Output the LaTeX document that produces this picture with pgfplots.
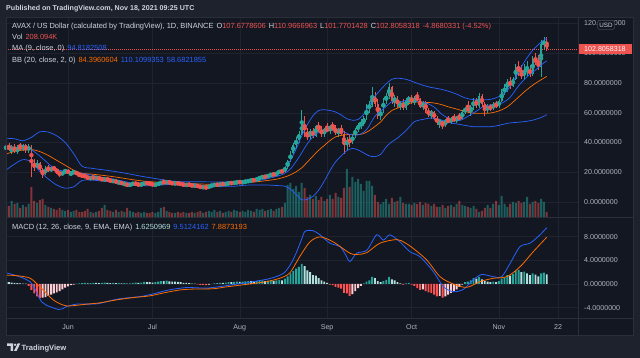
\documentclass[border=0pt]{standalone}
\usepackage{fontspec}
\setmainfont{Liberation Sans}
\usepackage{pgfplots}
\pgfplotsset{compat=1.18}
\usepgfplotslibrary{fillbetween}
\usepackage{pgfplotstable}

\definecolor{bgout}{HTML}{1E222D}
\definecolor{bgin}{HTML}{131722}
\definecolor{gridc}{HTML}{1F2330}
\definecolor{sepc}{HTML}{2A2E39}
\definecolor{txt}{HTML}{B2B5BE}
\definecolor{txtl}{HTML}{D1D4DC}
\definecolor{upc}{HTML}{26A69A}
\definecolor{dnc}{HTML}{EF5350}
\definecolor{blu}{HTML}{2962FF}
\definecolor{ora}{HTML}{FF6D00}
\definecolor{hup}{HTML}{26A69A}
\definecolor{hupf}{HTML}{B2DFDB}
\definecolor{hdng}{HTML}{FFCDD2}
\definecolor{hdn}{HTML}{FF5252}
\definecolor{bbfill}{HTML}{2196F3}
\definecolor{badge}{HTML}{434651}

\pgfplotstableread{
x o h l c v
9 35 40 33 38 14
10 38 40 34 35 11
11 35 38 32 37 16
12 37 39 33 34 13
13 34 38 32 37 14
14 37 40 35 36 9
15 36 39 34 38 12
16 38 39 33 35 10
17 35 39 33 37 13
18 37 38 17 26 30
19 26 29 21 23 16
20 23 28 22 26 14
21 26 27 20 21.5 17
22 21.5 23 16 19 18
23 19 24 18 23 12
24 23 25 20 21 10
25 21 24 20 23 9
26 23 24.5 21 22 8
27 22 23 19 20 7
28 20 21 17 18.5 9
29 18.5 21 17.5 20 7
30 20 22.5 19 21.5 6
31 21.5 22 18.5 19 7
32 19 20 18 19.5 5
33 19.5 21 19 20.5 6
34 20.5 21 18 18.5 7
35 18.5 19.5 17 18 5
36 18 19 16.5 17.5 5
37 17.5 18.5 16.5 17 6
38 17 18 15 15.5 8
39 15.5 17 15 16.5 5
40 16.5 17.5 15.5 16 4
41 16 17 15.5 16.5 5
42 16.5 17 15 15.5 6
43 15.5 16.5 14.5 15 9
44 15 16 14 15.5 12
45 15.5 16 14.5 14.8 7
46 14.8 15.5 13.5 14 6
47 14 15 13 14.5 5
48 14.5 15 12.5 13 7
49 13 14 12 13.5 5
50 13.5 14 11.5 12 6
51 12 13 11 12.5 5
52 12.5 13 10 11 9
53 11 12.5 10.5 12 6
54 12 13 11.5 12.5 5
55 12.5 13 11.8 12 4
56 12 12.5 11 11.5 5
57 11.5 12.5 11 12 4
58 12 13 11.5 12.8 5
59 12.8 13.5 12 12.5 4
60 12.5 13 11.8 12.2 4
61 12.2 12.5 11.2 11.5 5
62 11.5 12 11 11.8 4
63 11.8 12.8 11.5 12.5 5
64 12.5 13.5 12.2 13.2 9
65 13.2 14.5 12.8 13 10
66 13 14 12.5 13.5 6
67 13.5 14 12.5 12.8 5
68 12.8 13.2 12 12.5 4
69 12.5 13 11.8 12.8 4
70 12.8 13.2 12 12.2 5
71 12.2 12.8 11.5 12 4
72 12 12.5 11 11.3 5
73 11.3 12 11 11.8 4
74 11.8 12.2 11.2 11.5 4
75 11.5 11.8 10.5 10.8 5
76 10.8 11.5 10.5 11.2 4
77 11.2 11.4 10.2 10.5 5
78 10.5 10.8 9.5 9.9 6
79 9.9 10.5 9.4 10 4
80 10 10.2 9.3 9.6 5
81 9.6 11 9.5 10.8 6
82 10.8 11.5 10.5 11.2 5
83 11.2 12 10.9 11.8 7
84 11.8 12 11.2 11.5 5
85 11.5 12.5 11.3 12.2 6
86 12.2 12.8 11.5 11.8 4
87 11.8 12.5 11.5 12.3 5
88 12.3 13 12 12.8 6
89 12.8 13.2 12.3 12.6 5
90 12.6 13.4 12.4 13.1 7
91 13.1 13.6 12.8 13.4 6
92 13.4 14 12.8 13.2 5
93 13.2 13.8 12.6 13.6 6
94 13.6 14.2 13 13.9 5
95 13.9 14.5 13.4 14.3 7
96 14.3 15 13.8 14.8 6
97 14.8 15.5 14 14.6 5
98 14.6 16 14.3 15.6 8
99 15.6 17 15.2 16.5 7
100 16.5 17.5 15.8 17.2 8
101 17.2 17.8 16.2 16.8 6
102 16.8 18.5 16.5 18 7
103 18 19 17.2 18.6 8
104 18.6 19.5 17.8 18.2 6
105 18.2 20 18 19.6 8
106 19.6 21.5 19 20.8 9
107 20.8 22 19.5 20.2 10
108 20.2 24 19.8 23.5 14
109 23.5 28 22.5 27.5 32
110 27.5 34 27 33 34
111 33 40 32 38.5 28
112 38.5 44 36 42 31
113 42 48 40 46 25
114 46 62 45 53 34
115 53 58 44 46 29
116 46 50 42 43.5 20
117 43.5 49 42 48 22
118 48 50 43 44.5 18
119 44.5 52 44 51 21
120 51 54 47 48.5 17
121 48.5 51 44 45.5 20
122 45.5 50 44 49 16
123 49 53 47 48 18
124 48 52 46 51 22
125 51 54 48 49 18
126 49 52 45 46.5 24
127 46.5 50 44 48.5 20
128 48.5 52 45 46 19
129 46 48 32 38 29
130 38 44 35 42 48
131 42 45 37 40 30
132 40 46 39 45 40
133 45 50 43 48.5 35
134 48.5 53 47 51.5 38
135 51.5 56 49 52.5 33
136 52.5 58 51 56.5 26
137 56.5 66 55 63 36
138 63 68 60 65.5 36
139 65.5 77 64 71 31
140 71 74 64 66 22
141 66 69 56 58 15
142 58 63 55 61 13
143 61 70 60 69 15
144 69 73 66 71 18
145 71 80 69 77 13
146 77 78 66 68 19
147 68 72 64 70 15
148 70 71 63 65 16
149 65 68 62 66 20
150 66 69 62 63.5 14
151 63.5 70 62 68.5 13
152 68.5 71 65 70 13
153 70 72 66 67 12
154 67 71 65 70 14
155 70 74 68 69 13
156 69 70 63 64 15
157 64 68 62 67 12
158 67 68 60 61.5 14
159 61.5 63 57 59 13
160 59 62 56 60.5 11
161 60.5 61.5 55 56 13
162 56 58 52 53.5 10
163 53.5 56 50 54.5 10
164 54.5 55 49 51.5 12
165 51.5 56 50.5 55 9
166 55 58 53 54 11
167 54 57 52.5 56 12
168 56 59 54 55 10
169 55 58 53 57 13
170 57 60 55 56 16
171 56 62 55 60.5 12
172 60.5 64 59 63 11
173 63 68 60 61.5 10
174 61.5 65 58 64 9
175 64 70 62 68.5 11
176 68.5 70 63 64.5 8
177 64.5 73 63 71 5
178 71 72.5 64 66 6
179 66 67 58 62 9
180 62 66 60 64 12
181 64 66 61 63 9
182 63 67 62 65.5 13
183 65.5 68 63 64.5 16
184 64.5 69 63 68 12
185 68 76 67 74 21
186 74 79 72 76 13
187 76 83 74 81 10
188 81 84 76 78 13
189 78 84 77 83 15
190 83 93 82 91 14
191 91 95 85 87 16
192 87 92 83 84.5 14
193 84.5 93 82 88 15
194 88 95 85 89 20
195 89 92 84 86 13
196 86 98 85 96 15
197 96 100 92 94 16
198 94 99 89 91 14
199 91 109 84 106 18
200 106 111 103 107.68 15
201 107.68 110.97 101.77 102.81 5
}\candles

\pgfplotstableread{
x u b l
9 42.8 32.2 21.5
12 42.5 34.0 25.5
15 41.2 34.9 28.5
18 43.5 35.3 27.0
21 47.2 33.9 20.5
24 47.0 31.3 15.5
27 44.5 28.0 11.4
30 40.0 24.7 9.3
33 32.5 21.4 10.2
36 24.0 19.3 14.5
39 22.8 18.8 14.8
42 22.0 18.2 14.3
46 21.0 17.3 13.5
50 19.8 16.2 12.5
54 18.4 15.0 11.6
58 17.0 14.0 11.0
62 15.8 13.4 11.0
66 14.5 13.1 11.7
70 13.8 12.7 11.6
74 13.6 12.4 11.1
78 13.6 12.1 10.6
82 13.5 11.9 10.3
86 13.5 12.0 10.5
90 13.8 12.2 10.6
94 14.5 12.9 11.3
98 15.8 13.6 11.4
102 17.6 14.5 11.4
105 19.5 15.3 11.1
108 23.0 16.8 10.6
110 28.0 18.3 8.6
112 35.5 20.3 5.1
114 44.5 23.0 1.5
116 52.0 26.9 1.8
118 58.0 30.9 3.8
120 61.5 34.8 8.0
122 62.0 38.0 14.0
124 61.5 41.3 21.0
126 60.5 43.8 27.0
128 58.5 44.8 31.0
130 56.0 45.3 34.5
132 55.0 45.5 36.0
134 55.5 45.3 35.0
136 59.0 46.0 33.0
138 65.0 48.0 31.0
140 71.0 50.8 30.5
142 75.5 53.8 32.0
144 79.5 58.3 37.0
146 82.5 61.5 40.5
148 83.2 63.1 43.0
151 82.5 65.3 48.0
154 80.5 67.3 54.0
157 78.5 67.0 55.5
160 77.0 66.8 56.5
163 76.0 65.8 55.5
166 74.5 64.0 53.5
169 72.5 62.5 52.5
172 70.0 60.8 51.5
175 68.8 59.7 50.6
178 68.6 59.6 50.6
181 69.0 59.8 50.6
184 70.8 61.2 51.5
187 75.0 64.0 52.9
190 84.0 68.8 53.5
193 94.0 74.0 54.0
196 102.0 78.5 55.0
199 107.5 82.2 56.8
201 110.11 84.40 58.68
}\bb

\pgfplotstableread{
x m
9 36.3
12 36.3
15 36.5
17 36.3
20 32.4
23 27.6
26 22.7
29 20.9
32 20.5
35 19.5
38 18.6
41 17.3
44 16.1
47 15.4
50 14.2
53 13.0
56 12.2
59 12.1
62 12.1
65 12.4
68 12.6
71 12.7
74 12.3
77 11.6
80 10.7
83 10.6
86 11.0
89 11.9
92 12.5
95 13.2
98 14.1
101 15.3
104 16.7
107 18.4
110 22.2
113 30.1
116 39.2
119 45.8
122 47.7
125 48.3
128 48.0
131 45.4
134 45.1
137 48.6
140 57.7
143 62.5
146 67.4
149 67.2
152 68.8
155 67.7
158 66.7
161 63.8
164 58.6
167 55.6
170 54.7
173 57.6
176 61.1
179 64.6
182 65.4
185 66.4
188 70.4
191 78.1
194 84.2
197 88.7
200 93.6
201 94.8
}\maline

\pgfplotstableread{
x m
9 1.9
12 1.5
14 1.2
16 0.8
17.5 0.4
19 -0.6
20 -1.6
21.6 -3.0
23 -3.5
25 -3.9
27.6 -4.3
29 -4.2
30.5 -3.8
34 -3.4
38 -3.4
42 -3.3
48 -2.6
53 -2.3
57 -2.1
61 -1.7
65 -1.2
68 -0.9
73 -0.6
77 -0.65
80 -0.7
84 -0.5
87 -0.3
91 0.0
94.5 0.2
98 0.5
101.6 0.8
104 1.1
106.3 1.5
108 2.0
110 3.3
112 5.2
114 7.6
115.2 8.9
118 9.0
120.5 8.3
124 6.9
127.6 6.3
129.5 5.0
131.1 3.8
133.5 5.2
137.1 5.7
140.6 8.3
143 7.4
145.3 8.3
148.9 7.1
152.4 5.45
156 4.6
160.7 2.1
164.3 -0.45
167.8 -1.3
171.4 -0.9
174.9 0.7
177.9 1.6
182 1.24
185 1.24
188 3.5
191.5 6.3
195.1 6.9
198.6 8.3
201 9.51
}\macd

\pgfplotstableread{
x s
9 1.5
13 1.4
17.5 1.0
20 0.0
22.2 -1.0
24 -1.9
25.8 -2.7
28 -3.3
30.5 -3.7
34 -3.6
37.6 -3.4
42 -3.2
48 -2.7
54 -2.3
60.1 -2.0
65 -1.5
70.8 -1.0
76 -0.85
82.6 -0.8
87 -0.5
92.1 -0.2
97 0.1
101.6 0.4
105 0.8
107.5 1.2
110 2.0
113.4 4.7
116.9 7.1
120.5 7.95
125.2 7.1
131.1 5.2
134 5.0
137.1 5.3
141.8 6.9
147.7 7.5
150.5 7.0
153.6 6.0
158.4 4.05
163.1 1.24
167.8 0.0
172.6 -0.56
177.3 0.4
182 0.96
186.8 1.24
191.5 2.9
196.2 5.45
201 7.89
}\sig

\pgfplotstableread{
x h k
9 0.4 1
10 0.3 1
11 0.25 1
12 0.2 1
13 0.15 1
14 0.1 1
15 0.05 1
16 0.05 1
17 -0.3 3
18 -1.0 3
19 -1.6 3
20 -2.1 3
21 -2.4 3
22 -2.3 2
23 -2.2 2
24 -2.0 2
25 -1.8 2
26 -1.6 2
27 -1.4 2
28 -1.2 2
29 -0.9 2
30 -0.6 2
31 -0.4 2
32 -0.2 2
33 -0.1 2
34 0.05 0
35 0.1 0
36 0.15 0
37 0.2 0
38 0.1 1
39 0.15 0
40 0.2 0
41 0.2 1
42 0.15 1
43 0.2 0
44 0.25 0
45 0.2 1
46 0.15 1
47 0.2 0
48 0.15 1
49 0.2 0
50 0.1 1
51 0.15 0
52 0.05 1
53 0.1 0
54 0.2 0
55 0.25 0
56 0.2 1
57 0.25 0
58 0.35 0
59 0.3 1
60 0.3 1
61 0.25 1
62 0.3 0
63 0.4 0
64 0.5 0
65 0.5 1
66 0.55 0
67 0.45 1
68 0.4 1
69 0.4 1
70 0.35 1
71 0.3 1
72 0.2 1
73 0.2 1
74 0.15 1
75 0.05 1
76 0.05 1
77 -0.05 3
78 -0.15 3
79 -0.15 3
80 -0.2 3
81 -0.1 2
82 0.02 0
83 0.1 0
84 0.1 1
85 0.2 0
86 0.2 1
87 0.25 0
88 0.3 0
89 0.3 1
90 0.35 0
91 0.4 0
92 0.35 1
93 0.4 0
94 0.45 0
95 0.5 0
96 0.5 1
97 0.45 1
98 0.5 0
99 0.55 0
100 0.6 0
101 0.5 1
102 0.55 0
103 0.6 0
104 0.5 1
105 0.6 0
106 0.7 0
107 0.6 1
108 0.9 0
109 1.3 0
110 1.8 0
111 2.2 0
112 2.6 0
113 2.9 0
114 3.4 0
115 3.0 1
116 2.3 1
117 2.0 1
118 1.5 1
119 1.4 1
120 1.0 1
121 0.6 1
122 0.4 1
123 0.2 1
124 -0.1 3
125 -0.2 3
126 -0.5 3
127 -0.6 3
128 -0.8 3
129 -1.5 3
130 -1.6 3
131 -2.0 3
132 -1.7 2
133 -1.2 2
134 -0.7 2
135 -0.3 2
136 0.1 0
137 0.4 0
138 0.6 0
139 1.2 0
140 1.0 1
141 0.5 1
142 0.3 1
143 0.5 0
144 0.7 0
145 1.2 0
146 0.8 1
147 0.6 1
148 0.3 1
149 0.1 1
150 -0.1 3
151 0.1 0
152 0.2 0
153 -0.1 3
154 -0.3 3
155 -0.7 3
156 -1.0 3
157 -0.9 2
158 -1.2 3
159 -1.4 3
160 -1.5 3
161 -1.8 3
162 -2.1 3
163 -2.0 2
164 -2.3 3
165 -2.1 2
166 -1.8 2
167 -1.5 2
168 -1.2 2
169 -0.9 2
170 -0.5 2
171 -0.1 2
172 0.3 0
173 0.4 0
174 0.6 0
175 1.0 0
176 0.9 1
177 1.2 0
178 0.8 1
179 0.5 1
180 0.4 1
181 0.3 1
182 0.4 0
183 0.3 1
184 0.5 0
185 0.9 0
186 1.1 0
187 1.5 0
188 1.4 1
189 1.7 0
190 2.2 0
191 2.4 0
192 2.0 1
193 2.1 0
194 1.8 1
195 1.5 1
196 1.8 0
197 1.6 1
198 1.3 1
199 1.8 0
200 1.9 0
201 1.63 1
}\hist

\newcommand\fs[1]{\fontsize{#1bp}{#1bp}\selectfont}
\pgfplotsset{
  tv/.style={scale only axis, width=572bp, xmin=8.98, xmax=212.1, anchor=south west,
    axis line style={draw=none}, tick style={draw=none}, major tick length=0pt, clip=true,
    grid style={gridc, line width=0.5bp},
    /pgf/number format/assume math mode=true,
    yticklabel pos=right,
    yticklabel style={anchor=west, xshift=6bp, inner sep=0pt, text=txt, font=\fs{7.1},
      /pgf/number format/fixed, /pgf/number format/fixed zerofill, /pgf/number format/precision=7, /pgf/number format/1000 sep={}}},
  candle/.style 2 args={only marks, mark=none, color=#1, restrict expr to domain={\thisrow{c}-\thisrow{o}}{#2},
    error bars/.cd, y dir=both, y explicit, error mark=none, error bar style={line width=0.6bp, color=#1}},
  body/.style 2 args={only marks, mark=none, color=#1, restrict expr to domain={\thisrow{c}-\thisrow{o}}{#2},
    error bars/.cd, y dir=both, y explicit, error mark=none, error bar style={line width=1.8bp, color=#1}},
  vol/.style 2 args={ybar, bar width=2.0bp, bar shift=0pt, draw=none, fill=#1, fill opacity=0.5, restrict expr to domain={\thisrow{c}-\thisrow{o}}{#2}},
  hbar/.style 2 args={ybar, bar width=1.9bp, bar shift=0pt, draw=none, fill=#1, restrict expr to domain={\thisrow{k}}{#2:#2}},
}

\begin{document}
\begin{tikzpicture}
\fill[bgout] (0,0) rectangle (640bp,358bp);
\fill[bgin] (6bp,23bp) rectangle (633bp,341bp);

% price grid and scale
\begin{axis}[tv, at={(6bp,141bp)}, height=200bp, ymin=-10.08, ymax=124.37,
  xtick={31,61,92,123,153,184,205}, xticklabels={{},{},{},{},{},{},{}}, xmajorgrids,
  ytick={0,20,40,60,80,100,120}, ymajorgrids]
\addplot[draw=none] coordinates {(100,50)};
\end{axis}

% volume
\begin{axis}[tv, at={(6bp,141bp)}, height=200bp, ymin=0, ymax=200, hide axis]
\addplot[vol={upc}{0:1000}] table[x=x, y=v] {\candles};
\addplot[vol={dnc}{-1000:-0.0001}] table[x=x, y=v] {\candles};
\end{axis}

% price data
\begin{axis}[tv, at={(6bp,141bp)}, height=200bp, ymin=-10.08, ymax=124.37, hide axis]
\addplot[draw=none, name path=U, smooth, tension=0.5] table[x=x, y=u] {\bb};
\addplot[draw=none, name path=L, smooth, tension=0.5] table[x=x, y=l] {\bb};
\addplot[bbfill, fill opacity=0.08, draw=none] fill between[of=U and L];
\addplot[dnc, line width=0.6bp, dash pattern=on 0.8bp off 1.2bp] coordinates {(8.98,102.8058318) (212.1,102.8058318)};
\addplot[candle={upc}{0:1000}] table[x=x, y expr={(\thisrow{h}+\thisrow{l})/2}, y error expr={(\thisrow{h}-\thisrow{l})/2}] {\candles};
\addplot[candle={dnc}{-1000:-0.0001}] table[x=x, y expr={(\thisrow{h}+\thisrow{l})/2}, y error expr={(\thisrow{h}-\thisrow{l})/2}] {\candles};
\addplot[body={upc}{0:1000}] table[x=x, y expr={(\thisrow{o}+\thisrow{c})/2}, y error expr={abs(\thisrow{c}-\thisrow{o})/2}] {\candles};
\addplot[body={dnc}{-1000:-0.0001}] table[x=x, y expr={(\thisrow{o}+\thisrow{c})/2}, y error expr={abs(\thisrow{c}-\thisrow{o})/2}] {\candles};
\addplot[blu, line width=0.7bp, smooth, tension=0.5] table[x=x, y=u] {\bb};
\addplot[blu, line width=0.7bp, smooth, tension=0.5] table[x=x, y=l] {\bb};
\addplot[ora, line width=0.7bp, smooth, tension=0.5] table[x=x, y=b] {\bb};
\addplot[blu, line width=0.7bp, smooth, tension=0.5] table[x=x, y=m] {\maline};
\end{axis}

% MACD
\begin{axis}[tv, at={(6bp,40bp)}, height=101bp, ymin=-5.74, ymax=11.31,
  xtick={31,61,92,123,153,184,205}, xticklabels={Jun,Jul,Aug,Sep,Oct,Nov,22}, xmajorgrids,
  xticklabel style={anchor=base, yshift=-11.5bp, text=txt, font=\fs{7.1}},
  ytick={-4,0,4,8}, ymajorgrids]
\addplot[hbar={hup}{0}] table[x=x, y=h] {\hist};
\addplot[hbar={hupf}{1}] table[x=x, y=h] {\hist};
\addplot[hbar={hdng}{2}] table[x=x, y=h] {\hist};
\addplot[hbar={hdn}{3}] table[x=x, y=h] {\hist};
\addplot[blu, line width=0.8bp, smooth, tension=0.5] table[x=x, y=m] {\macd};
\addplot[ora, line width=0.8bp, smooth, tension=0.5] table[x=x, y=s] {\sig};
\end{axis}

% separators and frame
\draw[sepc, line width=0.6bp] (6bp,141bp) -- (633bp,141bp);
\draw[sepc, line width=0.6bp] (6bp,40bp) -- (633bp,40bp);
\draw[sepc, line width=0.6bp] (578bp,23bp) -- (578bp,341bp);
\draw[sepc, line width=0.6bp] (6bp,23bp) rectangle (633bp,341bp);

% last price label
\fill[dnc] (578.5bp,304.3bp) rectangle (632bp,313.5bp);
\node[anchor=west, inner sep=0pt, text=white, font=\fs{7.1}] at (584bp,309bp) {102.8058318};
% USD badge
\filldraw[fill=bgin, draw=badge, line width=0.5bp, rounded corners=1.5bp] (597.5bp,328.5bp) rectangle (614.5bp,337.5bp);
\node[anchor=center, inner sep=0pt, text=txtl, font=\fs{6.3}] at (606bp,333bp) {USD};

% texts
\node[anchor=base west, inner sep=0pt, text=txtl, font=\bfseries\fs{7.1}] at (6bp,347.5bp) {Published on TradingView.com, Nov 18, 2021 09:25 UTC};
\node[anchor=base west, inner sep=0pt, text=txtl, font=\fs{7.45}] at (12bp,329.5bp) {AVAX / US Dollar (calculated by TradingView), 1D, BINANCE\hspace{3bp}O\textcolor{dnc}{107.6778606}\hspace{3bp}H\textcolor{dnc}{110.9666963}\hspace{3bp}L\textcolor{dnc}{101.7701428}\hspace{3bp}C\textcolor{dnc}{102.8058318}\hspace{3bp}\textcolor{dnc}{-4.8680331 (-4.52\%)}};
\node[anchor=base west, inner sep=0pt, text=txtl, font=\fs{7.45}] at (12bp,318.5bp) {Vol\hspace{3bp}\textcolor{dnc}{208.094K}};
\node[anchor=base west, inner sep=0pt, text=txtl, font=\fs{7.45}] at (12bp,307.5bp) {MA (9, close, 0)\hspace{3bp}\textcolor{blu}{94.8182508}};
\node[anchor=base west, inner sep=0pt, text=txtl, font=\fs{7.45}] at (12bp,295.5bp) {BB (20, close, 2, 0)\hspace{3bp}\textcolor{ora}{84.3960604}\hspace{3bp}\textcolor{blu}{110.1099353}\hspace{3bp}\textcolor{blu}{58.6821855}};
\node[anchor=base west, inner sep=0pt, text=txtl, font=\fs{7.45}] at (12bp,128.5bp) {MACD (12, 26, close, 9, EMA, EMA)\hspace{3bp}\textcolor{hupf}{1.6250969}\hspace{3bp}\textcolor{blu}{9.5124162}\hspace{3bp}\textcolor{ora}{7.8873193}};

% TradingView logo
\fill[txtl] (7bp,14.5bp) -- (13bp,14.5bp) -- (13bp,7bp) -- (10.6bp,7bp) -- (10.6bp,12.2bp) -- (7bp,12.2bp) -- cycle;
\fill[txtl] (15bp,13.2bp) circle (1.3bp);
\fill[txtl] (17.6bp,14.5bp) -- (20.2bp,14.5bp) -- (16.6bp,7bp) -- (14bp,7bp) -- cycle;
\node[anchor=base west, inner sep=0pt, text=txtl, font=\bfseries\fs{7.6}] at (21.5bp,8bp) {TradingView};

\pgfresetboundingbox
\path[use as bounding box] (0,0) rectangle (640bp,358bp);
\end{tikzpicture}
\end{document}
